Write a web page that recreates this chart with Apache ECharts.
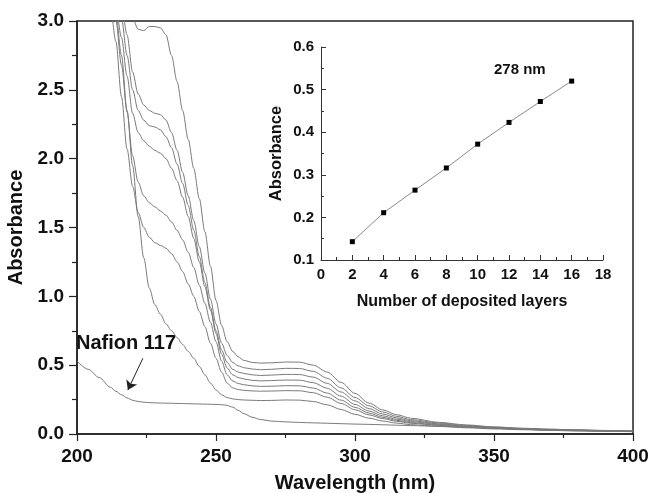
<!DOCTYPE html>
<html>
<head>
<meta charset="utf-8">
<script src="https://cdn.jsdelivr.net/npm/echarts@6/dist/echarts.min.js"></script>
<style>
  html, body { margin: 0; padding: 0; background: #fff; }
  #chart { width: 652px; height: 493px; }
</style>
</head>
<body>
<div id="chart"></div>
<script>
// wavelength grid shared by all spectra (nm)
var wavelengths = [200, 204, 208, 212, 214, 216, 218, 220, 222, 224, 226, 228, 230, 232, 234, 236, 238, 240, 242, 244, 246, 248, 250, 252, 254, 256, 258, 260, 263, 266, 270, 275, 280, 285, 290, 295, 300, 305, 310, 315, 320, 330, 340, 350, 360, 370, 380, 390, 400];

// spectra, lowest film to highest film
var nafion = [0.53, 0.47, 0.41, 0.34, 0.31, 0.285, 0.262, 0.245, 0.236, 0.231, 0.228, 0.226, 0.225, 0.224, 0.223, 0.222, 0.221, 0.22, 0.219, 0.218, 0.217, 0.216, 0.215, 0.213, 0.208, 0.195, 0.172, 0.148, 0.122, 0.105, 0.094, 0.088, 0.084, 0.081, 0.078, 0.075, 0.072, 0.07, 0.067, 0.064, 0.061, 0.056, 0.051, 0.046, 0.04, 0.034, 0.029, 0.025, 0.022];
var film1 = [4.0, 3.7, 3.4, 3.15, 3.05, 2.75, 2.35, 1.95, 1.58, 1.28, 1.06, 0.94, 0.87, 0.8, 0.75, 0.7, 0.65, 0.6, 0.55, 0.49, 0.43, 0.37, 0.32, 0.285, 0.265, 0.255, 0.25, 0.247, 0.245, 0.243, 0.244, 0.247, 0.246, 0.236, 0.212, 0.178, 0.143, 0.115, 0.094, 0.079, 0.068, 0.055, 0.045, 0.037, 0.031, 0.026, 0.022, 0.019, 0.017];
var film2 = [4.1, 3.8, 3.5, 3.1, 2.85, 2.45, 2.07, 1.8, 1.61, 1.5, 1.43, 1.39, 1.37, 1.35, 1.31, 1.25, 1.18, 1.09, 1.0, 0.89, 0.78, 0.66, 0.55, 0.45, 0.37, 0.335, 0.323, 0.317, 0.313, 0.311, 0.312, 0.315, 0.314, 0.3, 0.267, 0.222, 0.176, 0.139, 0.112, 0.092, 0.078, 0.062, 0.05, 0.041, 0.034, 0.028, 0.024, 0.021, 0.018];
var film3 = [4.2, 3.9, 3.6, 3.2, 3.0, 2.68, 2.34, 2.02, 1.83, 1.73, 1.68, 1.65, 1.62, 1.59, 1.54, 1.48, 1.41, 1.32, 1.21, 1.08, 0.95, 0.81, 0.67, 0.53, 0.43, 0.385, 0.367, 0.358, 0.35, 0.346, 0.347, 0.351, 0.35, 0.334, 0.297, 0.246, 0.194, 0.152, 0.121, 0.099, 0.083, 0.065, 0.052, 0.042, 0.035, 0.029, 0.025, 0.021, 0.018];
var film4 = [4.3, 4.0, 3.7, 3.3, 3.1, 2.88, 2.6, 2.33, 2.19, 2.13, 2.09, 2.06, 2.04, 2.0, 1.93, 1.84, 1.72, 1.58, 1.42, 1.25, 1.07, 0.9, 0.73, 0.58, 0.48, 0.43, 0.41, 0.4, 0.39, 0.386, 0.388, 0.392, 0.391, 0.373, 0.332, 0.275, 0.215, 0.167, 0.132, 0.107, 0.09, 0.07, 0.055, 0.044, 0.036, 0.03, 0.026, 0.022, 0.019];
var film5 = [4.4, 4.1, 3.8, 3.4, 3.2, 3.02, 2.75, 2.5, 2.35, 2.28, 2.24, 2.23, 2.21, 2.16, 2.08, 1.96, 1.82, 1.66, 1.48, 1.29, 1.1, 0.92, 0.75, 0.61, 0.52, 0.47, 0.45, 0.44, 0.43, 0.425, 0.428, 0.433, 0.432, 0.413, 0.368, 0.305, 0.24, 0.185, 0.145, 0.117, 0.097, 0.074, 0.058, 0.046, 0.038, 0.031, 0.027, 0.023, 0.02];
var film6 = [4.5, 4.2, 3.9, 3.5, 3.3, 3.12, 2.9, 2.63, 2.47, 2.39, 2.35, 2.33, 2.32, 2.28, 2.19, 2.06, 1.9, 1.73, 1.55, 1.36, 1.17, 0.98, 0.8, 0.66, 0.57, 0.52, 0.495, 0.482, 0.472, 0.467, 0.47, 0.477, 0.476, 0.455, 0.405, 0.335, 0.265, 0.205, 0.16, 0.128, 0.105, 0.08, 0.062, 0.049, 0.04, 0.033, 0.028, 0.024, 0.021];
var film7 = [4.6, 4.3, 4.0, 3.6, 3.4, 3.2, 3.06, 3.02, 2.94, 2.93, 2.96, 2.96, 2.95, 2.9, 2.75, 2.56, 2.35, 2.14, 1.93, 1.71, 1.47, 1.22, 0.97, 0.79, 0.67, 0.6, 0.56, 0.535, 0.52, 0.515, 0.517, 0.523, 0.522, 0.5, 0.45, 0.375, 0.295, 0.225, 0.175, 0.14, 0.115, 0.085, 0.066, 0.052, 0.042, 0.035, 0.03, 0.026, 0.022];

// inset: absorbance at 278 nm vs number of layers
var layers = [2, 4, 6, 8, 10, 12, 14, 16];
var abs278 = [0.143, 0.211, 0.264, 0.316, 0.372, 0.423, 0.472, 0.52];

var spectra = [nafion, film1, film2, film3, film4, film5, film6, film7];

function pairs(xs, ys) {
  return xs.map(function (x, i) { return [x, ys[i]]; });
}

var FONT = 'Liberation Sans';
var INK = '#111';

var series = spectra.map(function (ys, i) {
  var s = {
    type: 'line',
    xAxisIndex: 0,
    yAxisIndex: 0,
    data: pairs(wavelengths, ys),
    showSymbol: false,
    smooth: 0.3,
    smoothMonotone: 'x',
    clip: true,
    lineStyle: { color: '#7a7a7a', width: 1 }
  };
  if (i === 0) {
    // arrow pointing at the bare membrane spectrum
    s.markLine = {
      silent: true,
      symbol: ['none', 'arrow'],
      symbolSize: 9,
      label: { show: false },
      lineStyle: { color: '#222', width: 1, type: 'solid' },
      data: [[{ coord: [223.7, 0.55] }, { coord: [218.3, 0.32] }]]
    };
  }
  return s;
});

series.push({
  type: 'line',
  xAxisIndex: 1,
  yAxisIndex: 1,
  data: pairs(layers, abs278),
  symbol: 'rect',
  symbolSize: 5,
  itemStyle: { color: '#000' },
  lineStyle: { color: '#8a8a8a', width: 1 }
});

var myChart = echarts.init(document.getElementById('chart'));
var option = {
  animation: false,
  backgroundColor: '#fff',
  grid: [
    { left: 77, right: 19, top: 21, bottom: 59, show: true, borderColor: '#222', borderWidth: 1.5, outerBoundsMode: 'none' },
    { left: 321, right: 49, top: 47, bottom: 233, outerBoundsMode: 'none' }
  ],
  xAxis: [
    {
      gridIndex: 0, type: 'value', min: 200, max: 400, interval: 50,
      name: 'Wavelength (nm)', nameLocation: 'middle', nameGap: 39,
      nameTextStyle: { fontFamily: FONT, fontWeight: 'bold', fontSize: 20, color: INK },
      axisLine: { lineStyle: { color: '#222', width: 1.5 } },
      axisTick: { inside: false, length: 7, lineStyle: { color: '#222', width: 1.2 } },
      minorTick: { show: true, splitNumber: 2, length: 4, lineStyle: { color: '#222', width: 1.2 } },
      splitLine: { show: false },
      axisLabel: { fontFamily: FONT, fontWeight: 'bold', fontSize: 19, color: INK, margin: 13 }
    },
    {
      gridIndex: 1, type: 'value', min: 0, max: 18, interval: 2,
      name: 'Number of deposited layers', nameLocation: 'middle', nameGap: 34,
      nameTextStyle: { fontFamily: FONT, fontWeight: 'bold', fontSize: 16, color: INK },
      axisLine: { lineStyle: { color: '#333', width: 1 } },
      axisTick: { inside: true, length: 5, lineStyle: { color: '#333' } },
      minorTick: { show: true, splitNumber: 2, length: 3, lineStyle: { color: '#333' } },
      splitLine: { show: false },
      axisLabel: { fontFamily: FONT, fontWeight: 'bold', fontSize: 15, color: INK, margin: 7 }
    }
  ],
  yAxis: [
    {
      gridIndex: 0, type: 'value', min: 0, max: 3, interval: 0.5,
      name: 'Absorbance', nameLocation: 'middle', nameGap: 40, nameRotate: 90,
      nameTextStyle: { fontFamily: FONT, fontWeight: 'bold', fontSize: 20, color: INK },
      axisLine: { lineStyle: { color: '#222', width: 1.5 } },
      axisTick: { inside: false, length: 8, lineStyle: { color: '#222', width: 1.2 } },
      minorTick: { show: true, splitNumber: 2, length: 5, lineStyle: { color: '#222', width: 1.2 } },
      splitLine: { show: false },
      axisLabel: {
        fontFamily: FONT, fontWeight: 'bold', fontSize: 19, color: INK, margin: 13,
        formatter: function (v) { return v.toFixed(1); }
      }
    },
    {
      gridIndex: 1, type: 'value', min: 0.1, max: 0.6, interval: 0.1,
      name: 'Absorbance', nameLocation: 'middle', nameGap: 36, nameRotate: 90,
      nameTextStyle: { fontFamily: FONT, fontWeight: 'bold', fontSize: 16.5, color: INK },
      axisLine: { lineStyle: { color: '#333', width: 1 } },
      axisTick: { inside: true, length: 5, lineStyle: { color: '#333' } },
      minorTick: { show: true, splitNumber: 2, length: 3, lineStyle: { color: '#333' } },
      splitLine: { show: false },
      axisLabel: {
        fontFamily: FONT, fontWeight: 'bold', fontSize: 15, color: INK, margin: 7,
        formatter: function (v) { return v.toFixed(1); }
      }
    }
  ],
  graphic: [
    {
      type: 'text', left: 76, top: 333,
      style: { text: 'Nafion 117', fontFamily: FONT, fontWeight: 'bold', fontSize: 20, fill: INK }
    },
    {
      type: 'text', left: 494, top: 62,
      style: { text: '278 nm', fontFamily: FONT, fontWeight: 'bold', fontSize: 15, fill: INK }
    }
  ],
  series: series
};
myChart.setOption(option);
</script>
</body>
</html>
